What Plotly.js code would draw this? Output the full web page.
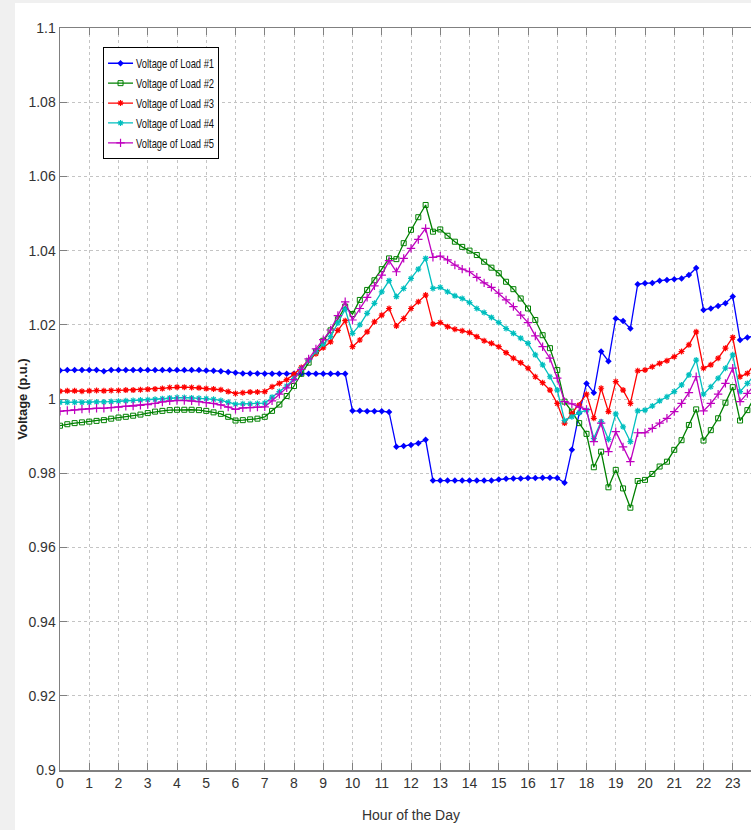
<!DOCTYPE html>
<html>
<head>
<meta charset="utf-8">
<script src="https://cdn.plot.ly/plotly-3.0.1.min.js"></script>
<style>
  html, body { margin:0; padding:0; width:751px; height:830px; overflow:hidden; background:#f0f0f0; }
  #chart { position:absolute; left:15px; top:3px; width:800px; height:827px; background:#fff; }
</style>
</head>
<body>
<div id="chart"></div>
<script>
// Hour of the day (15-minute steps)
const hours = [
  0,0.25,0.5,0.75,1,1.25,1.5,1.75,2,2.25,2.5,2.75,3,3.25,3.5,3.75,
  4,4.25,4.5,4.75,5,5.25,5.5,5.75,6,6.25,6.5,6.75,7,7.25,7.5,7.75,
  8,8.25,8.5,8.75,9,9.25,9.5,9.75,10,10.25,10.5,10.75,11,11.25,11.5,11.75,
  12,12.25,12.5,12.75,13,13.25,13.5,13.75,14,14.25,14.5,14.75,15,15.25,15.5,15.75,
  16,16.25,16.5,16.75,17,17.25,17.5,17.75,18,18.25,18.5,18.75,19,19.25,19.5,19.75,
  20,20.25,20.5,20.75,21,21.25,21.5,21.75,22,22.25,22.5,22.75,23,23.25,23.5,23.75
];

const load1 = [
  1.0077,1.0078,1.0078,1.0078,1.0078,1.0078,1.0075,1.0078,1.0078,1.0078,1.0078,1.0078,1.0078,1.0078,1.0078,1.0078,
  1.0078,1.0078,1.0078,1.0078,1.0077,1.0076,1.0075,1.0073,1.0071,1.0069,1.0069,1.0069,1.0068,1.0068,1.0068,1.0068,
  1.0068,1.0068,1.0068,1.0068,1.0068,1.0068,1.0068,1.0068,0.9968,0.9968,0.9967,0.9967,0.9967,0.9965,0.9871,0.9873,
  0.9876,0.9881,0.9890,0.9780,0.9780,0.9780,0.9780,0.9780,0.9780,0.9780,0.9780,0.9780,0.9783,0.9785,0.9786,0.9786,
  0.9787,0.9787,0.9788,0.9788,0.9787,0.9774,0.9863,0.9962,1.0042,1.0017,1.0128,1.0102,1.0217,1.0210,1.0190,1.0309,
  1.0312,1.0313,1.0319,1.0321,1.0323,1.0325,1.0334,1.0353,1.0240,1.0244,1.0251,1.0258,1.0276,1.0159,1.0166,1.0170
];

const load2 = [
  0.9928,0.9932,0.9935,0.9937,0.9939,0.9941,0.9943,0.9947,0.9950,0.9952,0.9955,0.9958,0.9962,0.9966,0.9968,0.9970,
  0.9971,0.9971,0.9971,0.9970,0.9968,0.9964,0.9960,0.9952,0.9942,0.9943,0.9945,0.9947,0.9952,0.9968,0.9985,1.0008,
  1.0035,1.0068,1.0098,1.0128,1.0157,1.0185,1.0215,1.0249,1.0229,1.0267,1.0294,1.0320,1.0350,1.0379,1.0377,1.0420,
  1.0456,1.0490,1.0523,1.0451,1.0457,1.0440,1.0424,1.0410,1.0400,1.0388,1.0370,1.0354,1.0339,1.0316,1.0296,1.0271,
  1.0244,1.0213,1.0172,1.0137,1.0078,0.9993,0.9966,0.9935,0.9906,0.9816,0.9858,0.9762,0.9809,0.9759,0.9707,0.9779,
  0.9782,0.9798,0.9818,0.9831,0.9863,0.9889,0.9930,0.9972,0.9888,0.9916,0.9948,0.9990,1.0032,0.9942,0.9970,1.0005
];

const load3 = [
  1.0021,1.0022,1.0022,1.0021,1.0022,1.0023,1.0022,1.0023,1.0023,1.0024,1.0024,1.0025,1.0026,1.0027,1.0028,1.0031,
  1.0032,1.0032,1.0031,1.0030,1.0028,1.0027,1.0025,1.0020,1.0015,1.0017,1.0019,1.0019,1.0020,1.0033,1.0042,1.0052,
  1.0067,1.0085,1.0105,1.0122,1.0138,1.0154,1.0185,1.0211,1.0141,1.0159,1.0181,1.0208,1.0226,1.0244,1.0197,1.0217,
  1.0244,1.0262,1.0280,1.0202,1.0206,1.0195,1.0188,1.0184,1.0179,1.0168,1.0157,1.0150,1.0141,1.0125,1.0110,1.0098,
  1.0083,1.0060,1.0044,1.0024,0.9988,0.9935,0.9961,0.9984,1.0013,0.9948,1.0029,0.9966,1.0047,1.0024,0.9988,1.0076,
  1.0078,1.0087,1.0096,1.0103,1.0114,1.0128,1.0146,1.0181,1.0083,1.0092,1.0110,1.0137,1.0166,1.0060,1.0069,1.0095
];

const load4 = [
  0.9991,0.9991,0.9991,0.9991,0.9991,0.9992,0.9992,0.9993,0.9994,0.9995,0.9996,0.9997,0.9998,0.9999,1.0001,1.0003,
  1.0004,1.0004,1.0003,1.0002,1.0001,0.9999,0.9996,0.9991,0.9986,0.9987,0.9987,0.9988,0.9989,1.0005,1.0020,1.0035,
  1.0055,1.0080,1.0105,1.0128,1.0148,1.0168,1.0205,1.0242,1.0177,1.0200,1.0231,1.0258,1.0289,1.0319,1.0276,1.0298,
  1.0325,1.0350,1.0379,1.0298,1.0301,1.0289,1.0278,1.0271,1.0260,1.0244,1.0233,1.0220,1.0206,1.0190,1.0177,1.0164,
  1.0150,1.0119,1.0092,1.0060,1.0024,0.9942,0.9952,0.9963,0.9970,0.9894,0.9939,0.9891,0.9960,0.9925,0.9885,0.9968,
  0.9970,0.9981,0.9995,1.0006,1.0020,1.0038,1.0065,1.0105,1.0013,1.0033,1.0056,1.0083,1.0119,1.0020,1.0042,1.0065
];

const load5 = [
  0.9967,0.9969,0.9971,0.9973,0.9974,0.9975,0.9975,0.9977,0.9978,0.9980,0.9981,0.9983,0.9985,0.9988,0.9992,0.9995,
  0.9996,0.9996,0.9995,0.9993,0.9990,0.9988,0.9984,0.9978,0.9972,0.9976,0.9977,0.9978,0.9979,0.9995,1.0013,1.0030,
  1.0052,1.0080,1.0108,1.0135,1.0160,1.0186,1.0225,1.0262,1.0213,1.0244,1.0274,1.0305,1.0334,1.0373,1.0343,1.0379,
  1.0406,1.0430,1.0460,1.0382,1.0385,1.0375,1.0361,1.0350,1.0343,1.0328,1.0313,1.0301,1.0285,1.0267,1.0249,1.0226,
  1.0206,1.0170,1.0141,1.0110,1.0056,0.9993,0.9987,0.9978,0.9972,0.9885,0.9935,0.9858,0.9912,0.9871,0.9831,0.9909,
  0.9909,0.9921,0.9935,0.9948,0.9966,0.9988,1.0017,1.0060,0.9968,0.9988,1.0013,1.0042,1.0083,0.9993,1.0015,1.0038
];

const seriesNames = ['Voltage of Load #1','Voltage of Load #2','Voltage of Load #3','Voltage of Load #4','Voltage of Load #5'];

const xTickVals = [0,1,2,3,4,5,6,7,8,9,10,11,12,13,14,15,16,17,18,19,20,21,22,23,24];
const xTickText = ['0','1','2','3','4','5','6','7','8','9','10','11','12','13','14','15','16','17','18','19','20','21','22','23','24'];
const yTickVals = [0.9,0.92,0.94,0.96,0.98,1.0,1.02,1.04,1.06,1.08,1.1];
const yTickText = ['0.9','0.92','0.94','0.96','0.98','1','1.02','1.04','1.06','1.08','1.1'];

const narrow = '"Liberation Sans Narrow", "Arial Narrow", "Liberation Sans", sans-serif';

const styles = [
  {color:'#0000ff', symbol:'diamond', size:5, lw:0},
  {color:'#008000', symbol:'square-open', size:5, lw:1},
  {color:'#ff0000', symbol:'asterisk-open', size:5, lw:1.2},
  {color:'#00bfbf', symbol:'asterisk-open', size:5, lw:1.2},
  {color:'#bf00bf', symbol:'cross-thin-open', size:6, lw:1.2}
];
const allData = [load1, load2, load3, load4, load5];

const traces = allData.map((ys, i) => ({
  x: hours, y: ys, type:'scatter', mode:'lines+markers', name: seriesNames[i],
  line: {color: styles[i].color, width:1.3},
  marker: {symbol: styles[i].symbol, size: styles[i].size, color: styles[i].color,
           line: {color: styles[i].color, width: styles[i].lw}}
}));

const axisCommon = {
  ticks:'inside', ticklen:7, tickcolor:'#808080', tickwidth:1,
  showline:true, linecolor:'#808080', linewidth:1.5, mirror:'ticks',
  showgrid:true, gridcolor:'#c4c4c4', griddash:'dot', gridwidth:1,
  zeroline:false, tickfont:{family:narrow, size:14, color:'#333'}
};

const layout = {
  width:800, height:827,
  margin:{l:45, r:53, t:25, b:60},
  paper_bgcolor:'#ffffff', plot_bgcolor:'#ffffff',
  showlegend:true,
  xaxis: Object.assign({}, axisCommon, {
    range:[0,24], tickmode:'array', tickvals:xTickVals, ticktext:xTickText,
    title:{text:'Hour of the Day', font:{family:narrow, size:14, color:'#333'}, standoff:20}
  }),
  yaxis: Object.assign({}, axisCommon, {
    range:[0.9,1.1], tickmode:'array', tickvals:yTickVals, ticktext:yTickText,
    title:{text:'Voltage (p.u.)', font:{family:'"Liberation Sans", Arial, sans-serif', size:13, weight:'bold', color:'#222'}, standoff:2}
  }),
  legend:{
    x:0.0613, y:0.974, xanchor:'left', yanchor:'top',
    bgcolor:'#ffffff', bordercolor:'#000000', borderwidth:1,
    font:{family:narrow, size:13, color:'#111'}, tracegroupgap:0,
    itemwidth:30
  }
};

Plotly.newPlot('chart', traces, layout, {staticPlot:true, displayModeBar:false}).then(gd => {
  // condense the legend to mimic the narrow font and short line samples of the reference
  const textX = 32, textW = 78;
  gd.querySelectorAll('.legend .legendtext').forEach(t => {
    t.setAttribute('x', String(textX));
    t.setAttribute('textLength', String(textW));
    t.setAttribute('lengthAdjust', 'spacingAndGlyphs');
  });
  gd.querySelectorAll('.legend .legendlines path').forEach(p => p.setAttribute('d', 'M4,0h25'));
  gd.querySelectorAll('.legend .legendpoints path').forEach(p => p.setAttribute('transform', 'translate(16.5,0)'));
  const bg = gd.querySelector('.legend .bg');
  if (bg) bg.setAttribute('width', String(textX + textW + 5));
});
</script>
</body>
</html>
